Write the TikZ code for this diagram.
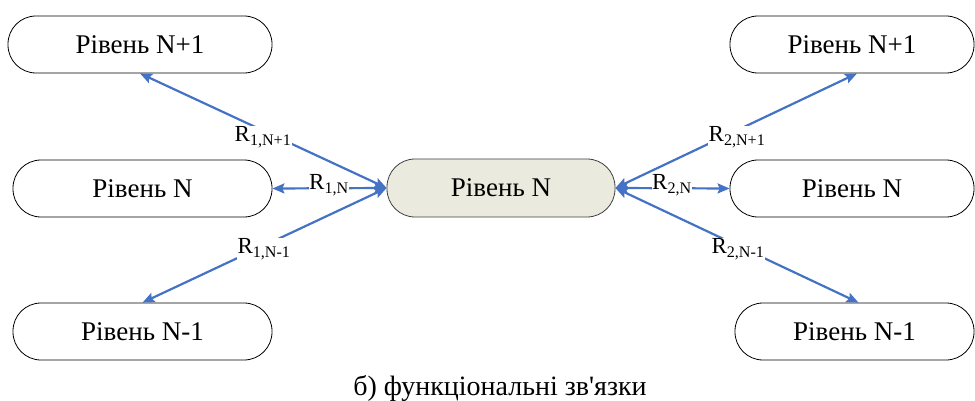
\documentclass[tikz,border=0pt]{standalone}
\usepackage{fontspec}
\setmainfont{Liberation Serif}[Ligatures=TeXOff]
\usetikzlibrary{arrows.meta}
\definecolor{linkblue}{RGB}{68,114,196}
\definecolor{centerfill}{RGB}{234,234,222}
\begin{document}
\begin{tikzpicture}[x=1pt,y=-1pt,
  levelbox/.style={draw=black, line width=0.8pt, rounded corners=28pt, minimum height=57pt,
    inner sep=0pt, font=\fontsize{27}{30}\selectfont},
  centerbox/.style={levelbox, draw=black!75, fill=centerfill, minimum height=58pt},
  link/.style={draw=linkblue, line width=2.2pt, {Stealth[length=12pt,width=10pt,inset=2pt]}-{Stealth[length=12pt,width=10pt,inset=2pt]}},
  rlabel/.style={fill=white, inner sep=0.5pt, font=\fontsize{23}{25}\selectfont}
]
\useasboundingbox (0,0) rectangle (975,401);
% nodes
\node[levelbox, minimum width=264pt] (l1) at (140,44.5) {Рівень N+1};
\node[levelbox, minimum width=259pt] (l2) at (142.5,188.5) {Рівень N};
\node[levelbox, minimum width=259pt] (l3) at (142.5,331.5) {Рівень N-1};
\node[centerbox, minimum width=228pt] (c) at (501,188) {Рівень N};
\node[levelbox, minimum width=244pt] (r1) at (852,44.5) {Рівень N+1};
\node[levelbox, minimum width=244pt] (r2) at (852,188.5) {Рівень N};
\node[levelbox, minimum width=239pt] (r3) at (854.5,331.5) {Рівень N-1};
% connectors
\draw[link] (c.west) -- (l1.south);
\draw[link] (c.west) -- (l2.east);
\draw[link] (c.west) -- (l3.north);
\draw[link] (c.east) -- ([xshift=5pt]r1.south);
\draw[link] (c.east) -- (r2.west);
\draw[link] (c.east) -- ([xshift=4pt]r3.north);
% labels
\node[rlabel] (a1) at (263,137) {R\textsubscript{1,N+1}};
\node[rlabel] (a2) at (329,185) {R\textsubscript{1,N}};
\node[rlabel] (a3) at (264,249) {R\textsubscript{1,N-1}};
\node[rlabel] (b1) at (737,137) {R\textsubscript{2,N+1}};
\node[rlabel] (b2) at (672,185) {R\textsubscript{2,N}};
\node[rlabel] (b3) at (738,249) {R\textsubscript{2,N-1}};
% caption
\node[anchor=base, inner sep=0pt, font=\fontsize{28}{30}\selectfont] (cap) at (500,395) {б) функціональні зв'язки};
\end{tikzpicture}
\end{document}
